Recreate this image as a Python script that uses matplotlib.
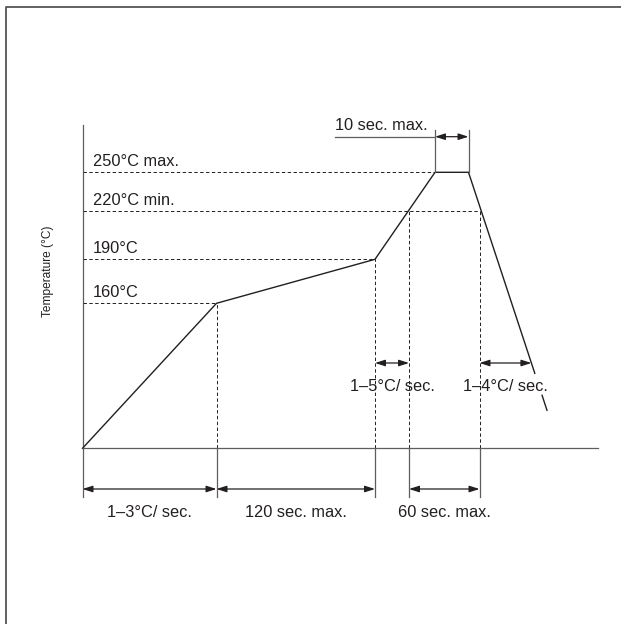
import numpy as np
import matplotlib
matplotlib.use("Agg")
import matplotlib.pyplot as plt

plt.rcParams['font.family'] = ['Liberation Sans', 'DejaVu Sans']

# schematic reflow profile (diagram units, origin at axis corner)
profile_t = [0, 134, 292.5, 352.5, 386, 464.5]
profile_h = [0, 145, 189, 276, 276, 38]

level_labels = ["160°C", "190°C", "220°C min.", "250°C max."]
level_h = [145, 189, 237, 276]
cross_220 = [326.5, 397]          # where profile passes 220°C (rise, fall)

span_labels = ["1–3°C/ sec.", "120 sec. max.", "60 sec. max."]
span_edges = [(0, 134), (134, 292.5), (326.5, 397)]

ink = '#231f20'
grey = '#5e5e5e'

fig = plt.figure(figsize=(6.21, 6.24), dpi=100)
ax = fig.add_axes([0, 0, 1, 1])
ax.set_xlim(-82.5, 538.5)
ax.set_ylim(-175.7, 448.3)
ax.axis('off')

# frame (top + left only)
ax.plot([-76.5, -76.5, 540], [-180, 441.3, 441.3], color='#555555', lw=1.3, clip_on=False)

# axes
ax.plot([0, 0], [0, 323.3], color=grey, lw=0.9)
ax.plot([0, 515.5], [0, 0], color=grey, lw=0.9)
ax.text(-35, 177, "Temperature (°C)", rotation=90, fontsize=8.6,
        ha='center', va='center', color=ink)

dash = dict(color=ink, lw=0.7, linestyle=(0, (3.5, 2.5)))

# horizontal dashed levels
t_end = [profile_t[1], profile_t[2], cross_220[1], profile_t[3]]
for lab, h, te in zip(level_labels, level_h, t_end):
    ax.plot([0, te], [h, h], **dash)
    ax.text(10.5, h + 6, lab, fontsize=11.8, ha='left', va='baseline', color=ink)

# vertical dashed drops
drops = [(profile_t[1], profile_h[1]), (profile_t[2], profile_h[2]),
         (cross_220[0], level_h[2]), (cross_220[1], level_h[2])]
for t, h in drops:
    ax.plot([t, t], [0, h], **dash)

# profile line, broken where the 1-4°C label sits
gap_top, gap_bot = 75, 53
fall_t = profile_t[4:]
fall_h = profile_h[4:]
t_gap_top = np.interp(gap_top, fall_h[::-1], fall_t[::-1])
t_gap_bot = np.interp(gap_bot, fall_h[::-1], fall_t[::-1])
ax.plot(profile_t[:5] + [t_gap_top], profile_h[:5] + [gap_top], color=ink, lw=1.0,
        solid_joinstyle='miter')
ax.plot([t_gap_bot, profile_t[5]], [gap_bot, profile_h[5]], color=ink, lw=1.0)


def dbl_arrow(x0, x1, y):
    ax.annotate('', xy=(x1, y), xytext=(x0, y),
                arrowprops=dict(arrowstyle='<|-|>,head_length=0.5,head_width=0.16',
                                color=ink, lw=0.9,
                                mutation_scale=12, shrinkA=0, shrinkB=0))


# bottom spans
tick_x = sorted({e for pair in span_edges for e in pair})
for x in tick_x:
    ax.plot([x, x], [0, -48.5], color=grey, lw=0.9)
for lab, (a, b) in zip(span_labels, span_edges):
    dbl_arrow(a, b, -40.7)
    ax.text((a + b) / 2, -68.5, lab, fontsize=11.8, ha='center', va='baseline', color=ink)

# ramp rate arrows
y_rate = 85.3
dbl_arrow(profile_t[2], cross_220[0], y_rate)
ax.text((profile_t[2] + cross_220[0]) / 2, 57.5, "1–5°C/ sec.", fontsize=11.8,
        ha='center', va='baseline', color=ink)
t_fall = np.interp(y_rate, fall_h[::-1], fall_t[::-1])
dbl_arrow(cross_220[1], t_fall, y_rate)
ax.text((cross_220[1] + t_fall) / 2, 57.5, "1–4°C/ sec.", fontsize=11.8,
        ha='center', va='baseline', color=ink)

# peak dwell
top_y = 318
for x in profile_t[3:5]:
    ax.plot([x, x], [profile_h[3], top_y], color=grey, lw=0.9)
ax.plot([252.5, profile_t[3]], [311.6, 311.6], color=grey, lw=0.9)
dbl_arrow(profile_t[3], profile_t[4], 311.6)
ax.text(252.5, 318.5, "10 sec. max.", fontsize=11.8, ha='left', va='baseline', color=ink)

fig.savefig('out.png', dpi=100)
